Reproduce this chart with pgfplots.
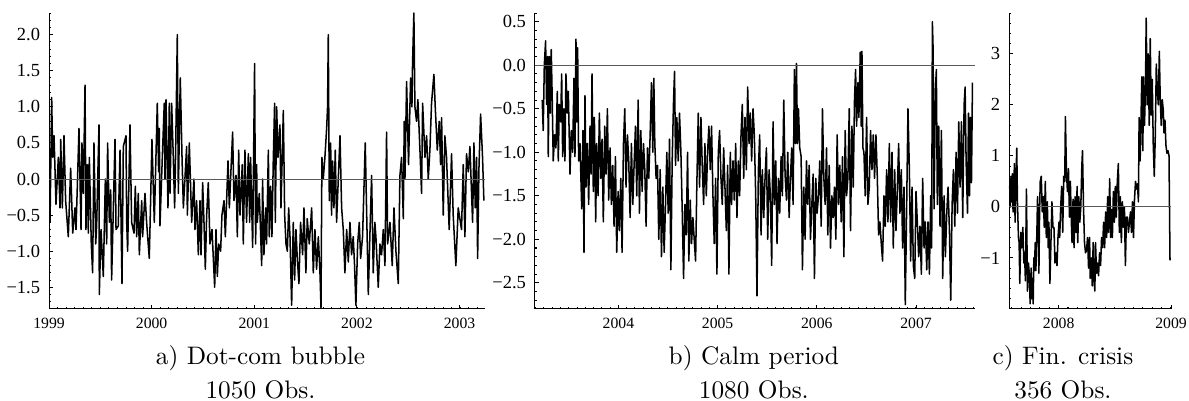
\documentclass[border=0pt]{standalone}
\usepackage{fontspec}
\usepackage{pgfplots}
\usepackage{pgfplotstable}
\pgfplotsset{compat=1.18}
\newfontfamily\tickfont{Liberation Serif}

% panel a: dot-com bubble
\pgfplotstableread{
t v
1999.010 -0.60
1999.026 1.13
1999.036 0.30
1999.049 0.60
1999.068 -0.35
1999.091 0.30
1999.107 -0.40
1999.114 0.55
1999.130 -0.40
1999.146 0.60
1999.162 -0.30
1999.188 -0.80
1999.211 0.15
1999.231 -0.75
1999.253 -0.40
1999.263 -0.70
1999.276 -0.10
1999.292 0.70
1999.312 -0.70
1999.321 0.50
1999.334 -0.20
1999.351 1.30
1999.360 -0.70
1999.373 0.20
1999.383 -0.75
1999.393 0.30
1999.412 -0.90
1999.425 -1.30
1999.438 0.50
1999.455 -0.90
1999.464 -0.65
1999.487 0.75
1999.490 -1.60
1999.507 -0.70
1999.529 -1.35
1999.549 0.00
1999.562 -0.90
1999.571 0.50
1999.588 -0.60
1999.601 -0.15
1999.610 -1.40
1999.643 0.55
1999.653 -0.70
1999.675 -0.65
1999.692 0.40
1999.711 -1.45
1999.724 0.45
1999.750 0.60
1999.757 -0.60
1999.766 -1.00
1999.789 0.75
1999.805 -0.60
1999.828 -0.75
1999.841 -0.10
1999.854 -0.80
1999.870 -0.20
1999.880 -1.05
1999.903 -0.30
1999.912 -0.80
1999.935 -0.20
1999.951 -0.60
1999.977 -1.10
1999.990 -0.30
2000.003 0.55
2000.026 -0.60
2000.055 1.05
2000.068 0.10
2000.075 0.70
2000.081 -0.65
2000.104 0.30
2000.123 1.05
2000.130 0.00
2000.140 1.10
2000.159 -0.40
2000.172 1.05
2000.179 -0.20
2000.195 1.05
2000.211 0.30
2000.224 -0.40
2000.234 0.40
2000.250 2.00
2000.260 -0.20
2000.279 1.40
2000.296 0.30
2000.309 -0.40
2000.341 0.45
2000.348 -0.50
2000.367 0.50
2000.390 -0.60
2000.412 0.00
2000.422 -0.70
2000.438 -0.30
2000.455 -1.05
2000.471 -0.30
2000.481 -1.05
2000.497 -0.05
2000.510 -0.60
2000.523 -1.25
2000.536 -0.50
2000.552 -0.05
2000.568 -0.90
2000.588 -0.70
2000.614 -1.50
2000.627 -0.70
2000.640 -1.35
2000.653 -0.90
2000.672 -1.00
2000.685 -0.50
2000.705 -0.30
2000.718 -0.80
2000.744 0.25
2000.757 -0.40
2000.789 0.65
2000.802 -0.30
2000.822 0.05
2000.835 -0.80
2000.848 0.40
2000.861 -0.50
2000.883 0.20
2000.893 -0.90
2000.909 0.40
2000.925 -0.60
2000.942 0.35
2000.955 -0.60
2000.964 0.30
2000.984 -0.95
2001.003 1.60
2001.013 -0.90
2001.023 0.20
2001.029 -0.60
2001.049 -0.20
2001.072 -1.20
2001.081 0.00
2001.094 -1.05
2001.111 -0.40
2001.120 -0.90
2001.137 0.40
2001.146 -0.80
2001.159 -0.10
2001.172 -0.80
2001.185 0.25
2001.198 1.05
2001.205 -0.60
2001.218 1.00
2001.231 0.30
2001.250 0.75
2001.260 -0.40
2001.283 0.95
2001.296 -0.50
2001.309 -0.90
2001.322 -1.00
2001.335 -0.40
2001.348 -0.80
2001.364 -1.75
2001.380 -0.60
2001.393 -1.40
2001.406 -0.70
2001.419 -1.10
2001.435 -1.45
2001.451 -0.60
2001.471 -1.05
2001.484 -0.40
2001.503 -1.30
2001.516 -0.55
2001.536 -0.90
2001.559 -0.40
2001.575 -1.30
2001.591 -0.70
2001.607 -1.25
2001.624 -0.80
2001.640 -1.30
2001.650 -1.78
2001.659 0.30
2001.672 0.00
2001.688 0.30
2001.705 0.70
2001.714 1.00
2001.721 2.00
2001.731 -0.30
2001.744 0.50
2001.753 -0.50
2001.763 0.25
2001.776 -0.40
2001.789 0.40
2001.802 -0.60
2001.835 0.60
2001.851 -0.40
2001.867 -0.70
2001.883 -1.30
2001.900 -0.70
2001.916 -1.15
2001.932 -0.60
2001.948 -1.05
2001.964 -0.80
2001.977 -1.20
2001.990 -1.75
2002.007 -0.90
2002.023 -0.60
2002.036 -1.10
2002.055 -0.80
2002.081 0.50
2002.111 -1.60
2002.127 -0.75
2002.143 0.05
2002.159 -1.30
2002.175 -0.60
2002.185 -0.80
2002.208 -1.50
2002.224 -0.90
2002.240 -1.05
2002.257 -0.70
2002.273 -1.20
2002.289 0.65
2002.299 -0.90
2002.322 -0.60
2002.344 -1.20
2002.361 -0.40
2002.380 -1.00
2002.403 -1.45
2002.419 0.05
2002.435 0.30
2002.452 -0.55
2002.461 0.80
2002.468 0.00
2002.484 1.35
2002.503 0.20
2002.523 1.40
2002.536 1.00
2002.542 1.60
2002.555 2.30
2002.565 1.00
2002.581 0.80
2002.594 1.10
2002.614 0.40
2002.630 -0.20
2002.640 1.05
2002.663 0.30
2002.679 0.60
2002.695 0.00
2002.711 0.40
2002.727 1.05
2002.750 1.45
2002.763 1.00
2002.783 0.40
2002.802 0.80
2002.815 0.20
2002.825 0.85
2002.841 -0.50
2002.857 0.60
2002.873 0.30
2002.899 -0.70
2002.922 0.35
2002.938 -0.50
2002.964 -1.20
2002.987 -0.40
2003.019 -0.70
2003.036 0.20
2003.052 -0.80
2003.068 0.35
2003.085 0.10
2003.101 0.45
2003.127 -0.60
2003.140 0.50
2003.153 -0.40
2003.166 0.30
2003.176 -1.10
2003.189 0.15
2003.205 0.90
2003.224 0.30
2003.237 -0.30
}\dataA

% panel b: calm period
\pgfplotstableread{
t v
2003.232 -0.40
2003.242 -0.75
2003.253 0.00
2003.266 0.28
2003.276 -0.45
2003.286 0.10
2003.293 -1.05
2003.303 0.10
2003.313 -0.55
2003.323 0.18
2003.333 -0.40
2003.343 -1.10
2003.357 -0.80
2003.370 -0.95
2003.384 -0.30
2003.394 -1.10
2003.404 -0.45
2003.418 -0.65
2003.428 -0.10
2003.438 -1.05
2003.451 -0.50
2003.461 -1.10
2003.471 -0.10
2003.485 -0.55
2003.495 -0.30
2003.512 -1.25
2003.525 -0.75
2003.539 -1.00
2003.552 -0.15
2003.562 -1.05
2003.572 0.30
2003.582 -0.65
2003.589 0.20
2003.599 -1.10
2003.613 -0.90
2003.630 -1.65
2003.643 -0.75
2003.653 -2.15
2003.663 -0.35
2003.673 -1.40
2003.687 -0.90
2003.700 -1.60
2003.714 -0.70
2003.724 -1.25
2003.734 -0.10
2003.747 -1.45
2003.758 -0.60
2003.771 -1.80
2003.781 -0.90
2003.795 -1.50
2003.808 -0.55
2003.822 -1.30
2003.835 -0.85
2003.848 -1.80
2003.862 -0.70
2003.875 -1.25
2003.889 -0.50
2003.902 -1.55
2003.916 -0.95
2003.929 -1.60
2003.943 -1.15
2003.956 -1.85
2003.970 -1.05
2003.983 -2.15
2003.997 -1.45
2004.010 -1.90
2004.024 -1.30
2004.037 -2.15
2004.051 -0.90
2004.064 -0.50
2004.077 -1.40
2004.091 -0.80
2004.104 -1.10
2004.118 -1.75
2004.131 -0.90
2004.145 -1.60
2004.158 -1.15
2004.172 -0.70
2004.185 -1.50
2004.199 -0.40
2004.212 -1.70
2004.226 -0.75
2004.239 -1.45
2004.253 -0.90
2004.266 -1.20
2004.279 -1.85
2004.293 -0.95
2004.306 -1.30
2004.320 -0.80
2004.333 -0.20
2004.347 -1.00
2004.357 -0.15
2004.367 -0.90
2004.380 -1.30
2004.394 -1.15
2004.407 -2.00
2004.421 -1.20
2004.434 -2.20
2004.448 -1.40
2004.461 -2.15
2004.475 -1.60
2004.488 -1.00
2004.502 -1.70
2004.515 -0.85
2004.529 -2.35
2004.542 -1.10
2004.556 -0.40
2004.566 -0.07
2004.576 -1.15
2004.589 -0.60
2004.603 -1.10
2004.616 -0.55
2004.630 -1.00
2004.643 -1.65
2004.657 -2.45
2004.670 -1.60
2004.684 -1.95
2004.697 -1.00
2004.710 -2.25
2004.724 -1.55
2004.737 -2.05
2004.751 -1.75
2004.764 -2.00
2004.778 -2.25
2004.791 -1.35
2004.805 -0.55
2004.818 -1.40
2004.832 -0.60
2004.845 -1.15
2004.859 -1.60
2004.872 -0.90
2004.886 -1.50
2004.899 -1.00
2004.912 -0.70
2004.926 -1.20
2004.939 -0.70
2004.953 -1.50
2004.966 -2.05
2004.980 -1.30
2004.993 -2.40
2005.007 -1.00
2005.020 -0.75
2005.034 -1.30
2005.047 -1.60
2005.061 -0.95
2005.074 -1.40
2005.088 -1.90
2005.101 -1.15
2005.114 -2.40
2005.128 -1.00
2005.141 -1.60
2005.155 -1.10
2005.168 -1.55
2005.182 -0.90
2005.195 -1.75
2005.209 -1.10
2005.222 -1.50
2005.236 -0.80
2005.249 -0.45
2005.263 -1.30
2005.276 -0.60
2005.290 -1.20
2005.303 -0.25
2005.317 -0.90
2005.330 -0.55
2005.343 -1.10
2005.357 -0.50
2005.370 -0.80
2005.384 -1.50
2005.397 -2.65
2005.411 -1.20
2005.424 -0.80
2005.438 -1.95
2005.451 -1.20
2005.465 -1.75
2005.478 -1.30
2005.492 -0.95
2005.505 -2.00
2005.519 -1.20
2005.532 -1.50
2005.545 -2.30
2005.559 -0.65
2005.572 -1.60
2005.586 -1.10
2005.599 -2.05
2005.613 -1.30
2005.626 -1.70
2005.640 -1.05
2005.653 -1.50
2005.667 -0.40
2005.680 -1.25
2005.694 -1.55
2005.707 -1.00
2005.721 -1.75
2005.734 -1.30
2005.747 -0.95
2005.761 -1.60
2005.774 -0.05
2005.785 -0.90
2005.795 0.02
2005.805 -0.90
2005.815 -0.50
2005.828 -0.95
2005.842 -1.05
2005.855 -2.35
2005.869 -1.40
2005.882 -2.00
2005.896 -1.10
2005.909 -1.60
2005.923 -1.15
2005.936 -2.00
2005.950 -1.60
2005.963 -1.25
2005.976 -2.45
2005.990 -1.30
2006.003 -1.70
2006.017 -1.50
2006.030 -1.10
2006.044 -1.85
2006.057 -0.50
2006.071 -1.30
2006.084 -1.60
2006.098 -0.95
2006.111 -1.95
2006.125 -1.15
2006.138 -2.10
2006.152 -1.50
2006.165 -1.75
2006.178 -1.40
2006.192 -2.00
2006.205 -0.80
2006.219 -1.60
2006.232 -1.15
2006.246 -1.80
2006.259 -1.05
2006.273 -2.20
2006.286 -0.75
2006.300 -1.50
2006.313 -1.30
2006.327 -0.50
2006.340 -1.90
2006.354 -0.70
2006.367 -1.40
2006.380 -0.40
2006.391 -0.05
2006.401 -0.70
2006.414 -0.20
2006.424 -0.60
2006.438 0.15
2006.448 -0.70
2006.455 0.16
2006.465 -0.95
2006.475 -1.00
2006.488 -1.50
2006.502 -0.60
2006.515 -1.60
2006.529 -1.40
2006.542 -0.75
2006.556 -1.20
2006.569 -0.80
2006.582 -1.30
2006.596 -0.80
2006.609 -1.25
2006.623 -1.95
2006.636 -1.80
2006.650 -2.05
2006.663 -2.25
2006.677 -1.50
2006.690 -1.85
2006.704 -1.20
2006.717 -1.80
2006.731 -0.90
2006.744 -1.80
2006.758 -1.00
2006.771 -2.10
2006.785 -1.20
2006.798 -1.90
2006.811 -1.45
2006.825 -0.90
2006.838 -1.70
2006.852 -1.20
2006.865 -2.10
2006.879 -1.40
2006.892 -2.75
2006.906 -1.60
2006.919 -0.50
2006.933 -1.20
2006.946 -2.25
2006.960 -1.40
2006.973 -2.30
2006.987 -2.45
2007.000 -1.45
2007.013 -1.80
2007.027 -2.20
2007.040 -1.85
2007.054 -2.40
2007.067 -1.30
2007.081 -2.10
2007.094 -1.80
2007.108 -2.35
2007.121 -1.80
2007.135 -2.40
2007.148 -1.50
2007.158 -2.10
2007.165 0.50
2007.172 0.20
2007.182 -1.65
2007.195 -0.30
2007.205 -0.05
2007.215 -1.60
2007.229 -0.70
2007.242 -1.85
2007.256 -0.75
2007.269 -2.45
2007.283 -1.50
2007.296 -2.20
2007.310 -1.70
2007.323 -1.40
2007.337 -1.90
2007.350 -2.70
2007.364 -1.60
2007.377 -1.20
2007.391 -1.85
2007.404 -1.00
2007.418 -1.70
2007.431 -0.65
2007.444 -1.40
2007.458 -0.65
2007.471 -1.75
2007.485 -0.45
2007.495 -0.25
2007.505 -1.10
2007.519 -1.70
2007.529 -0.55
2007.539 -1.50
2007.549 -0.60
2007.559 -1.35
2007.569 -0.20
}\dataB

% panel c: financial crisis
\pgfplotstableread{
t v
2007.564 0.40
2007.570 0.00
2007.576 0.60
2007.582 0.10
2007.588 0.65
2007.594 -0.10
2007.600 0.30
2007.606 0.85
2007.612 -0.30
2007.618 0.40
2007.627 1.15
2007.633 0.10
2007.642 -0.60
2007.648 -0.70
2007.654 -1.50
2007.663 -0.50
2007.672 -0.80
2007.681 -0.40
2007.690 -1.10
2007.696 -0.90
2007.704 -1.45
2007.713 0.35
2007.722 -1.65
2007.731 -1.10
2007.740 -1.35
2007.746 -1.90
2007.755 -1.20
2007.761 -1.80
2007.767 -1.40
2007.773 -1.90
2007.779 -1.00
2007.785 -1.25
2007.791 -0.70
2007.797 -1.25
2007.806 -0.50
2007.812 0.20
2007.818 -0.30
2007.824 -1.30
2007.830 -0.10
2007.836 0.50
2007.845 0.60
2007.854 -0.10
2007.863 0.20
2007.872 -0.40
2007.881 0.50
2007.890 -0.60
2007.899 0.10
2007.907 -0.80
2007.913 -0.30
2007.922 -1.50
2007.931 -0.70
2007.940 0.10
2007.949 -0.40
2007.958 -0.40
2007.967 -1.10
2007.976 -0.90
2007.985 -1.15
2007.994 -0.60
2008.003 -0.30
2008.009 -0.60
2008.018 0.00
2008.027 0.40
2008.036 -0.50
2008.045 0.60
2008.054 0.50
2008.060 1.77
2008.069 0.70
2008.078 0.30
2008.087 0.75
2008.096 -0.20
2008.104 0.50
2008.113 -0.30
2008.119 -0.70
2008.128 0.15
2008.137 -0.80
2008.146 0.20
2008.155 -0.50
2008.164 0.40
2008.170 -0.70
2008.179 0.20
2008.188 -0.30
2008.197 0.00
2008.206 0.80
2008.212 1.10
2008.221 0.00
2008.230 -0.70
2008.239 -0.90
2008.248 -0.85
2008.257 -0.60
2008.266 -1.20
2008.275 -0.60
2008.281 -1.40
2008.290 -1.00
2008.299 -1.55
2008.307 -0.70
2008.313 -1.35
2008.322 -1.65
2008.328 -0.70
2008.337 -1.30
2008.346 -1.10
2008.355 -1.35
2008.364 -0.90
2008.373 -1.15
2008.382 -0.60
2008.391 -0.80
2008.400 -0.30
2008.409 -0.80
2008.418 -0.10
2008.427 -0.60
2008.436 0.20
2008.445 -0.50
2008.454 0.55
2008.463 -0.60
2008.472 -0.05
2008.478 -0.60
2008.487 0.30
2008.496 -0.30
2008.504 0.40
2008.513 -0.20
2008.522 0.50
2008.531 0.85
2008.540 -0.50
2008.549 0.20
2008.558 -0.70
2008.567 0.10
2008.576 -0.40
2008.585 0.00
2008.594 -1.15
2008.603 -0.20
2008.612 -0.20
2008.621 -0.50
2008.630 -0.30
2008.639 -0.10
2008.648 -0.50
2008.657 0.10
2008.666 -0.60
2008.675 0.15
2008.684 0.50
2008.693 0.35
2008.701 0.45
2008.710 0.10
2008.716 1.75
2008.725 0.90
2008.731 1.50
2008.740 2.55
2008.749 1.10
2008.755 2.55
2008.764 1.60
2008.773 2.40
2008.779 3.70
2008.788 2.00
2008.797 3.00
2008.806 1.60
2008.815 3.30
2008.824 1.80
2008.833 2.50
2008.842 1.20
2008.851 0.60
2008.860 1.40
2008.869 2.80
2008.878 2.30
2008.887 2.00
2008.896 3.05
2008.904 2.10
2008.913 1.60
2008.922 2.10
2008.931 1.90
2008.937 1.45
2008.946 1.70
2008.955 1.20
2008.964 1.05
2008.973 1.10
2008.982 1.00
2008.991 -1.05
}\dataC

\pgfplotsset{
  mma/.style={
    scale only axis, height=116.9pt, anchor=north west,
    axis x line*=bottom, axis y line*=left,
    axis line style={line width=0.4pt, -},
    enlargelimits=false, clip=false,
    tick align=inside,
    major tick length=1.6pt, minor tick length=0.8pt,
    every tick/.style={black, line width=0.4pt},
    xticklabel style={font=\tickfont\fontsize{6.2}{7}\selectfont},
    yticklabel style={font=\tickfont\fontsize{7.3}{8}\selectfont},
  },
  ser/.style={black, line width=0.6pt, line join=round, mark=none},
  zero/.style={black!65, line width=0.35pt, mark=none},
}

\begin{document}
\begin{tikzpicture}
\path[use as bounding box] (0,0) rectangle (469.7pt,-158.4pt);

\begin{axis}[mma, at={(19.36pt,-5.14pt)}, width=172.2pt,
  xmin=1999, xmax=2003.247, ymin=-1.8, ymax=2.3,
  xtick={1999,2000,2001,2002,2003}, xticklabels={1999,2000,2001,2002,2003},
  minor xtick={1999,1999.08333,...,2003.25},
  ytick={-1.5,-1,-0.5,0,0.5,1,1.5,2},
  yticklabels={−1.5,−1.0,−0.5,0.0,0.5,1.0,1.5,2.0},
  minor ytick={-1.8,-1.7,...,2.3}]
\addplot[ser] table[x=t,y=v] {\dataA};
\addplot[zero] coordinates {(1999,0) (2003.247,0)};
\end{axis}

\begin{axis}[mma, at={(211.3pt,-5.14pt)}, width=173.8pt,
  xmin=2003.158, xmax=2007.593, ymin=-2.8, ymax=0.6,
  xtick={2004,2005,2006,2007}, xticklabels={2004,2005,2006,2007},
  minor xtick={2003.16667,2003.25,...,2007.59},
  ytick={-2.5,-2,-1.5,-1,-0.5,0,0.5},
  yticklabels={−2.5,−2.0,−1.5,−1.0,−0.5,0.0,0.5},
  minor ytick={-2.8,-2.7,...,0.6}]
\addplot[ser] table[x=t,y=v] {\dataB};
\addplot[zero] coordinates {(2003.158,0) (2007.593,0)};
\end{axis}

\begin{axis}[mma, at={(398.6pt,-5.14pt)}, width=64pt,
  xmin=2007.558, xmax=2009, ymin=-2, ymax=3.8,
  xtick={2008,2009}, xticklabels={2008,2009},
  minor xtick={2007.58333,2007.66667,...,2009},
  ytick={-1,0,1,2,3}, yticklabels={−1,0,1,2,3},
  minor ytick={-2,-1.8,...,3.8}]
\addplot[ser] table[x=t,y=v] {\dataC};
\addplot[zero] coordinates {(2007.558,0) (2009,0)};
\end{axis}

\node[anchor=base] at (102.9pt,-143.8pt) {a) Dot-com bubble};
\node[anchor=base] at (102.9pt,-157.3pt) {1050 Obs.};
\node[anchor=base] at (297.8pt,-143.8pt) {b) Calm period};
\node[anchor=base] at (297.8pt,-157.3pt) {1080 Obs.};
\node[anchor=base] at (419.9pt,-143.8pt) {c) Fin. crisis};
\node[anchor=base] at (419.9pt,-157.3pt) {356 Obs.};
\end{tikzpicture}
\end{document}
